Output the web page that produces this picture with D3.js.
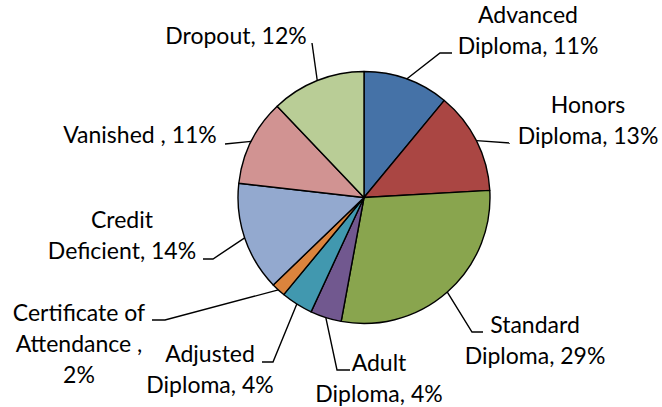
<!DOCTYPE html>
<html><head><meta charset="utf-8">
<script src="https://cdn.jsdelivr.net/npm/d3@7"></script>
<style>html,body{margin:0;padding:0;background:#fff;}svg{display:block;}</style>
</head><body><svg id="chart" width="662" height="407"></svg>
<script>
// Data (clockwise from 12 o'clock)
const categories = ["Advanced Diploma","Honors Diploma","Standard Diploma","Adult Diploma","Adjusted Diploma","Certificate of Attendance","Credit Deficient","Vanished","Dropout"];
const values = [11.0, 13.1, 28.8, 4.0, 4.1, 1.8, 14.0, 11.1, 12.1];
const labelLines = [
  ["Advanced","Diploma, 11%"],
  ["Honors","Diploma, 13%"],
  ["Standard","Diploma, 29%"],
  ["Adult","Diploma, 4%"],
  ["Adjusted","Diploma, 4%"],
  ["Certificate of","Attendance ,","2%"],
  ["Credit","Deficient, 14%"],
  ["Vanished , 11%"],
  ["Dropout, 12%"]
];
const colors = ["#4572A7","#AA4643","#89A54E","#71588F","#4198AF","#DB843D","#93A9CF","#D19392","#B9CD96"];

// Label layout (centre x, first baseline, leader elbow / end points)
const labelLayout = [
  {x:528, y:23,  pts:[[440,53],[452,53]]},
  {x:588, y:113, pts:[[510,143]]},
  {x:535, y:333, pts:[[472,332],[483,332]]},
  {x:379, y:371, pts:[[337,370],[350,370]]},
  {x:210, y:362, pts:[[273,362],[262,362]]},
  {x:79,  y:321, pts:[[165,320],[152,320]]},
  {x:122, y:228, pts:[[213,259],[203,259]]},
  {x:140, y:143, pts:[[225,144]]},
  {x:236, y:44,  pts:[[312,43]]}
];

const cx = 364, cy = 197.5, r = 126;
const fontSize = 23, lineH = 31;

const svg = d3.select("#chart");
const g = svg.append("g").attr("transform", `translate(${cx},${cy})`);
const pie = d3.pie().sort(null).value(d => d)(values);
const arc = d3.arc().innerRadius(0).outerRadius(r);

g.selectAll("path.slice").data(pie).join("path")
  .attr("class","slice")
  .attr("d", arc)
  .attr("fill", (d,i) => colors[i])
  .attr("stroke", "#000")
  .attr("stroke-width", 1.4)
  .attr("stroke-linejoin","round");

// leader lines
const line = d3.line();
pie.forEach((d,i) => {
  const a = (d.startAngle + d.endAngle)/2;
  const start = [cx + r*Math.sin(a), cy - r*Math.cos(a)];
  const pts = [start].concat(labelLayout[i].pts);
  svg.append("path").attr("d", line(pts))
    .attr("fill","none").attr("stroke","#000").attr("stroke-width",1.4);
});

// labels
labelLines.forEach((lines,i) => {
  const L = labelLayout[i];
  const t = svg.append("text")
    .attr("text-anchor","middle")
    .attr("font-family","Lato, 'Open Sans', sans-serif")
    .attr("font-size", fontSize)
    .attr("fill","#000");
  lines.forEach((s,k) => {
    t.append("tspan").attr("x", L.x).attr("y", L.y + k*lineH).text(s);
  });
});
</script>
</body></html>
